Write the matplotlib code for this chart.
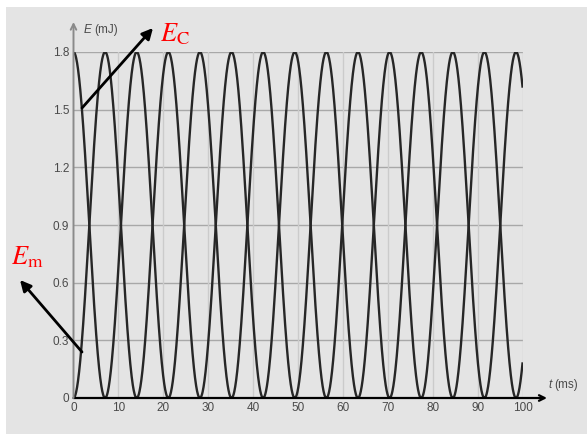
import numpy as np
import matplotlib
matplotlib.use("Agg")
import matplotlib.pyplot as plt
from matplotlib.patches import Rectangle

plt.rcParams['mathtext.fontset'] = 'stix'

# values
E_max = 1.8            # mJ, peak of both energies
half_period = 7.04     # ms, time between a peak of E_C and the next peak of E_m
t_end = 100            # ms
y_ticks = [0, 0.3, 0.6, 0.9, 1.2, 1.5, 1.8]
y_tick_labels = ['0', '0.3', '0.6', '0.9', '1.2', '1.5', '1.8']
x_ticks = [0, 10, 20, 30, 40, 50, 60, 70, 80, 90, 100]
x_tick_labels = ['0', '10', '20', '30', '40', '50', '60', '70', '80', '90', '100']

# LC circuit energies: E_C = Emax cos^2, E_m = Emax sin^2
t = np.linspace(0, t_end, 2000)
phase = np.pi * t / (2 * half_period)
E_C = E_max * np.cos(phase) ** 2
E_m = E_max * np.sin(phase) ** 2

W, H = 587, 434
bg = '#e4e4e4'
fig = plt.figure(figsize=(W / 100, H / 100), dpi=100, facecolor=bg)
# white strips on the top and left edges
fig.patches.append(Rectangle((0, 0), 6 / W, 1, transform=fig.transFigure,
                             facecolor='white', edgecolor='none', zorder=-10))
fig.patches.append(Rectangle((0, 1 - 7 / H), 1, 7 / H, transform=fig.transFigure,
                             facecolor='white', edgecolor='none', zorder=-10))

x0, x1 = 73.5, 522.5
yb, yt = 398, 52
ax = fig.add_axes([x0 / W, (H - yb) / H, (x1 - x0) / W, (yb - yt) / H])
ax.set_facecolor('none')
for s in ax.spines.values():
    s.set_visible(False)
ax.set_xlim(0, t_end)
ax.set_ylim(0, E_max)

# grid
for v in y_ticks[1:]:
    ax.axhline(v, color='#a8a8a8', lw=1.0, zorder=1)
for v in x_ticks[1:]:
    ax.axvline(v, color='#cbcbcb', lw=1.0, zorder=1)

ax.plot(t, E_C, color='#262626', lw=1.7, zorder=3)
ax.plot(t, E_m, color='#262626', lw=1.7, zorder=3)

ax.set_xticks(x_ticks)
ax.set_xticklabels(x_tick_labels)
ax.set_yticks(y_ticks)
ax.set_yticklabels(y_tick_labels)
ax.tick_params(length=0, labelsize=8.5, labelcolor='#4a4a4a', pad=3)
for lab in ax.get_xticklabels() + ax.get_yticklabels():
    lab.set_family('Liberation Sans')

# axes with arrows
ax.annotate('', xy=(547, H - yb), xycoords='figure pixels', xytext=(x0, H - yb),
            textcoords='figure pixels',
            arrowprops=dict(arrowstyle='->', color='black', lw=1.6, shrinkA=0, shrinkB=0))
ax.annotate('', xy=(x0, H - 22), xycoords='figure pixels', xytext=(x0, H - yb),
            textcoords='figure pixels',
            arrowprops=dict(arrowstyle='->', color='#8a8a8a', lw=1.4, shrinkA=0, shrinkB=0))
fig.text(548 / W, (H - 385) / H, 't', fontsize=8.5, color='#4a4a4a', style='italic',
         family='Liberation Sans', va='center', ha='left')
fig.text(554 / W, (H - 385) / H, '(ms)', fontsize=8.5, color='#4a4a4a',
         family='Liberation Sans', va='center', ha='left')
fig.text(84 / W, (H - 30) / H, 'E', fontsize=8.5, color='#4a4a4a', style='italic',
         family='Liberation Sans', va='center', ha='left')
fig.text(94 / W, (H - 30) / H, '(mJ)', fontsize=8.5, color='#4a4a4a',
         family='Liberation Sans', va='center', ha='left')

# curve labels
ax.annotate('', xy=(153, H - 28), xycoords='figure pixels', xytext=(82, H - 108),
            textcoords='figure pixels',
            arrowprops=dict(arrowstyle='-|>', color='black', lw=2, mutation_scale=16,
                            shrinkA=0, shrinkB=0))
fig.text(175 / W, (H - 34) / H, r'$E_{\mathrm{C}}$', fontsize=19, color='red',
         ha='center', va='center')
ax.annotate('', xy=(20, H - 280), xycoords='figure pixels', xytext=(82, H - 352),
            textcoords='figure pixels',
            arrowprops=dict(arrowstyle='-|>', color='black', lw=2, mutation_scale=16,
                            shrinkA=0, shrinkB=0))
fig.text(27 / W, (H - 257) / H, r'$E_{\mathrm{m}}$', fontsize=19, color='red',
         ha='center', va='center')

fig.savefig('out.png', dpi=100, facecolor=fig.get_facecolor())
